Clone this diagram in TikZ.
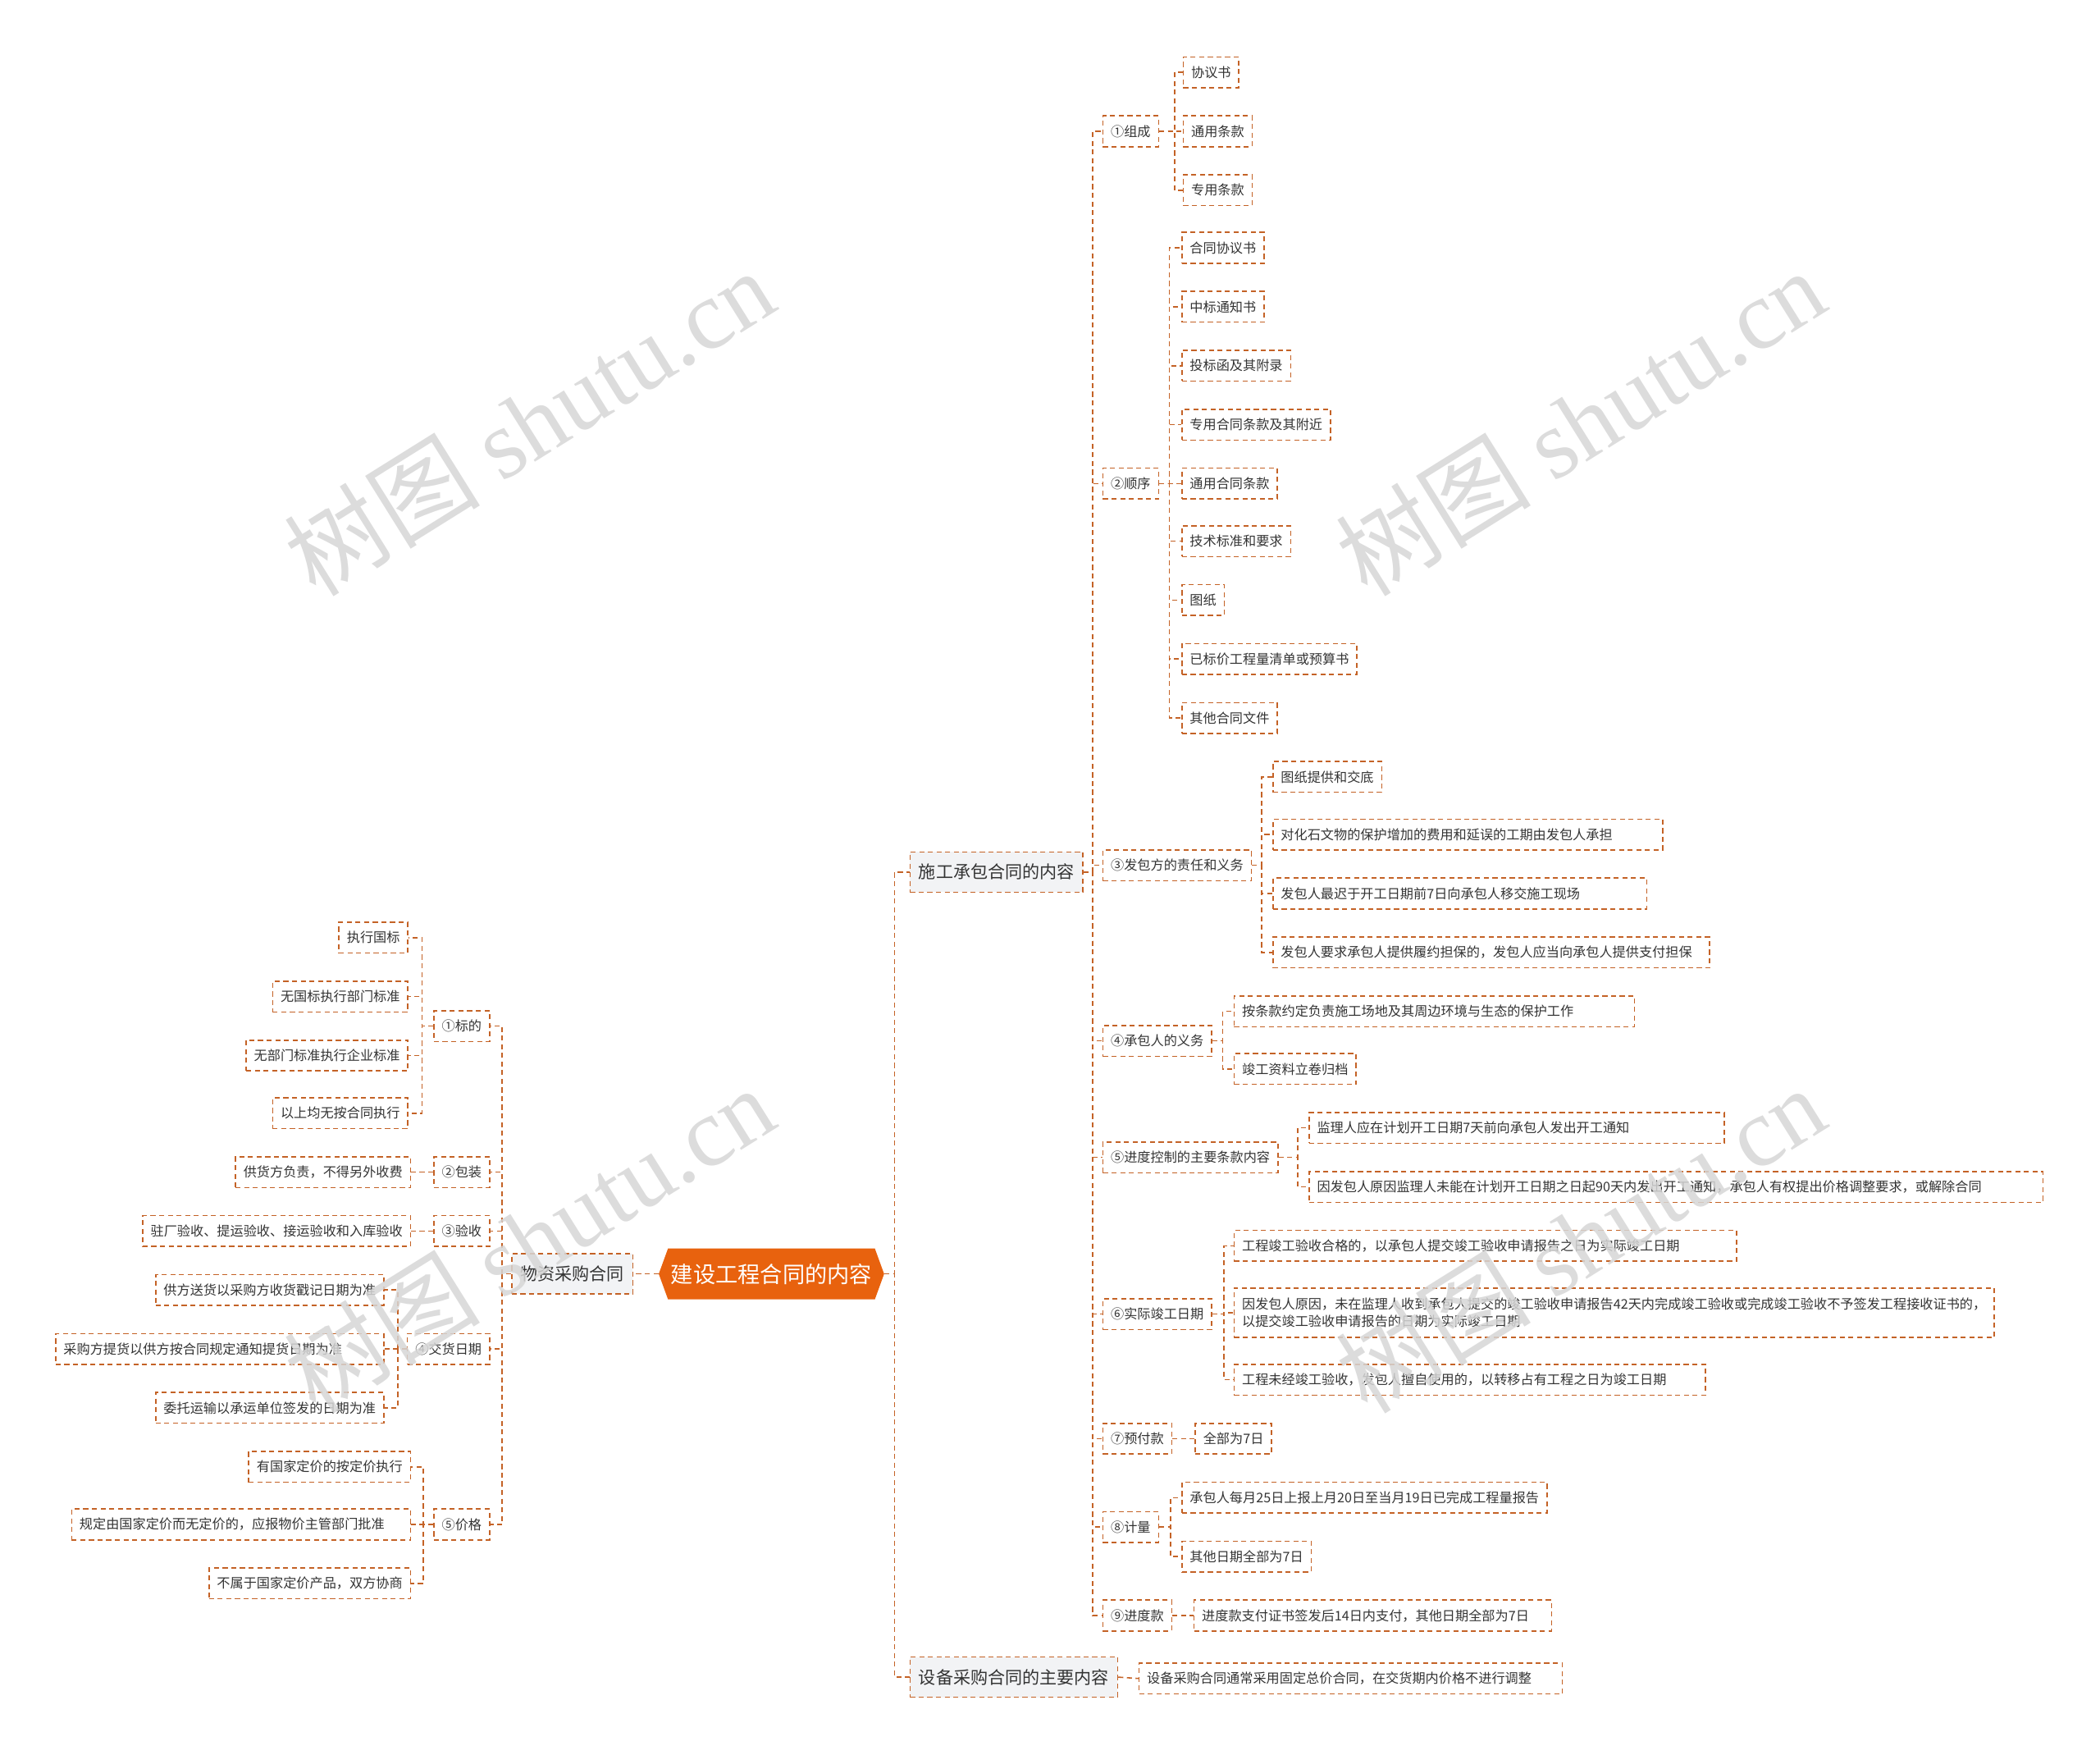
\documentclass[tikz,border=0pt]{standalone}
\usepackage{fontspec}
\setmainfont{Noto Sans CJK SC}
\newfontfamily\wmfont{Liberation Serif}
\usepackage{tikz}
\usetikzlibrary{shapes.symbols,positioning}
\definecolor{ln}{RGB}{196,98,38}
\definecolor{rootc}{RGB}{232,98,14}
\definecolor{lv1}{RGB}{242,243,245}
\definecolor{txt}{RGB}{51,51,51}

\begin{document}
\begin{tikzpicture}[x=0.03265cm,y=-0.03265cm,bw/.style={text width=#1pt,align=left}]
\tikzstyle{L}=[draw=ln,line width=0.9pt,dash pattern=on 3.5pt off 2.5pt]
\tikzstyle{T}=[L,minimum height=0.75cm,inner xsep=5.5pt,inner ysep=2pt,text=txt,font=\fontsize{9.2}{12}\selectfont]
\tikzstyle{B}=[T,fill=lv1,minimum height=0.98cm,inner xsep=6pt,font=\fontsize{12}{14}\selectfont]
\tikzstyle{R}=[signal,signal to=east and west,signal pointer angle=140,fill=rootc,text=white,minimum width=5.49cm,minimum height=1.24cm,inner xsep=2pt,font=\fontsize{15.5}{18}\selectfont]
\tikzstyle{W}=[rotate=32,text=black!16,text opacity=0.85,font=\fontsize{68}{76}\selectfont]
\useasboundingbox (0,0) rectangle (1568,1310);

\node[R] (root) at (576,951) {建设工程合同的内容};

\node[B,anchor=west] (sg) at (679,651) {施工承包合同的内容};
\node[B,anchor=west] (sb) at (679,1252) {设备采购合同的主要内容};
\node[B,anchor=east] (wz) at (473,951) {物资采购合同};

\node[T,anchor=west] (zc) at (823,98) {①组成};
\node[T,anchor=west] (sx) at (823,361) {②顺序};
\node[T,anchor=west] (fb) at (823,646) {③发包方的责任和义务};
\node[T,anchor=west] (cb) at (823,777) {④承包人的义务};
\node[T,anchor=west] (jd) at (823,864) {⑤进度控制的主要条款内容};
\node[T,anchor=west] (sj) at (823,981) {⑥实际竣工日期};
\node[T,anchor=west] (yf) at (823,1074) {⑦预付款};
\node[T,anchor=west] (jl) at (823,1140) {⑧计量};
\node[T,anchor=west] (jk) at (823,1206) {⑨进度款};

\node[T,anchor=west] (zc1) at (883,54) {协议书};
\node[T,anchor=west] (zc2) at (883,98) {通用条款};
\node[T,anchor=west] (zc3) at (883,142) {专用条款};

\node[T,anchor=west] (sx1) at (882,185) {合同协议书};
\node[T,anchor=west] (sx2) at (882,229) {中标通知书};
\node[T,anchor=west] (sx3) at (882,273) {投标函及其附录};
\node[T,anchor=west] (sx4) at (882,317) {专用合同条款及其附近};
\node[T,anchor=west] (sx5) at (882,361) {通用合同条款};
\node[T,anchor=west] (sx6) at (882,404) {技术标准和要求};
\node[T,anchor=west] (sx7) at (882,448) {图纸};
\node[T,anchor=west] (sx8) at (882,492) {已标价工程量清单或预算书};
\node[T,anchor=west] (sx9) at (882,536) {其他合同文件};

\node[T,anchor=west] (fb1) at (950,580) {图纸提供和交底};
\node[T,anchor=west,bw=259.4] (fb2) at (950,623) {对化石文物的保护增加的费用和延误的工期由发包人承担};
\node[T,anchor=west,bw=248.2] (fb3) at (950,667) {发包人最迟于开工日期前7日向承包人移交施工现场};
\node[T,anchor=west,bw=291.9] (fb4) at (950,711) {发包人要求承包人提供履约担保的，发包人应当向承包人提供支付担保};

\node[T,anchor=west,bw=266.8] (cb1) at (921,755) {按条款约定负责施工场地及其周边环境与生态的保护工作};
\node[T,anchor=west] (cb2) at (921,798) {竣工资料立卷归档};

\node[T,anchor=west,bw=277] (jd1) at (977,842) {监理人应在计划开工日期7天前向承包人发出开工通知};
\node[T,anchor=west,bw=498] (jd2) at (977,886) {因发包人原因监理人未能在计划开工日期之日起90天内发出开工通知，承包人有权提出价格调整要求，或解除合同};

\node[T,anchor=west,bw=337.4] (sj1) at (921,930) {工程竣工验收合格的，以承包人提交竣工验收申请报告之日为实际竣工日期};
\node[T,anchor=west,align=left,minimum height=1.21cm] (sj2) at (921,980) {因发包人原因，未在监理人收到承包人提交的竣工验收申请报告42天内完成竣工验收或完成竣工验收不予签发工程接收证书的，\\以提交竣工验收申请报告的日期为实际竣工日期};
\node[T,anchor=west,bw=316] (sj3) at (921,1030) {工程未经竣工验收，发包人擅自使用的，以转移占有工程之日为竣工日期};

\node[T,anchor=west] (yf1) at (892,1074) {全部为7日};
\node[T,anchor=west] (jl1) at (882,1118) {承包人每月25日上报上月20日至当月19日已完成工程量报告};
\node[T,anchor=west] (jl2) at (882,1162) {其他日期全部为7日};
\node[T,anchor=west,bw=237.1] (jk1) at (891,1206) {进度款支付证书签发后14日内支付，其他日期全部为7日};
\node[T,anchor=west,bw=282.6] (sb1) at (850,1253) {设备采购合同通常采用固定总价合同，在交货期内价格不进行调整};

\node[T,anchor=east] (bd) at (366,766) {①标的};
\node[T,anchor=east] (bz) at (366,875) {②包装};
\node[T,anchor=east] (ys) at (366,919) {③验收};
\node[T,anchor=east] (jh) at (366,1007) {④交货日期};
\node[T,anchor=east] (jg) at (366,1138) {⑤价格};

\node[T,anchor=east] (bd1) at (305,700) {执行国标};
\node[T,anchor=east] (bd2) at (305,744) {无国标执行部门标准};
\node[T,anchor=east] (bd3) at (305,788) {无部门标准执行企业标准};
\node[T,anchor=east] (bd4) at (305,831) {以上均无按合同执行};
\node[T,anchor=east] (bz1) at (307,875) {供货方负责，不得另外收费};
\node[T,anchor=east] (ys1) at (307,919) {驻厂验收、提运验收、接运验收和入库验收};
\node[T,anchor=east] (jh1) at (287,963) {供方送货以采购方收货戳记日期为准};
\node[T,anchor=east,bw=216.6] (jh2) at (287,1007) {采购方提货以供方按合同规定通知提货日期为准};
\node[T,anchor=east] (jh3) at (287,1051) {委托运输以承运单位签发的日期为准};
\node[T,anchor=east] (jg1) at (307,1095) {有国家定价的按定价执行};
\node[T,anchor=east,bw=224.1] (jg2) at (307,1138) {规定由国家定价而无定价的，应报物价主管部门批准};
\node[T,anchor=east] (jg3) at (307,1182) {不属于国家定价产品，双方协商};

\coordinate (tR) at (668,951); \coordinate (tL) at (484,951);
\coordinate (tsg) at (816,651); \coordinate (tsb) at (841,1252); \coordinate (twz) at (375,951);
\coordinate (tzc) at (877,98); \coordinate (tsx) at (873,361); \coordinate (tfb) at (942,646);
\coordinate (tcb) at (913,777); \coordinate (tjd) at (969,864); \coordinate (tsj) at (914,981);
\coordinate (tyf) at (882,1074); \coordinate (tjl) at (874,1140); \coordinate (tjk) at (882,1206);
\coordinate (tbd) at (315,766); \coordinate (tbz) at (316,875); \coordinate (tys) at (316,919);
\coordinate (tjh) at (297,1007); \coordinate (tjg) at (316,1138);

\draw[L] (root.east)--(tR)|-(sg.west); \draw[L] (root.east)--(tR)|-(sb.west);
\draw[L] (root.west)--(wz.east);
\draw[L] (sg.east)--(tsg)|-(zc.west); \draw[L] (sg.east)--(tsg)|-(sx.west); \draw[L] (sg.east)--(tsg)|-(fb.west);
\draw[L] (sg.east)--(tsg)|-(cb.west); \draw[L] (sg.east)--(tsg)|-(jd.west); \draw[L] (sg.east)--(tsg)|-(sj.west);
\draw[L] (sg.east)--(tsg)|-(yf.west); \draw[L] (sg.east)--(tsg)|-(jl.west); \draw[L] (sg.east)--(tsg)|-(jk.west);
\draw[L] (zc.east)--(tzc)|-(zc1.west); \draw[L] (zc.east)--(tzc)|-(zc2.west); \draw[L] (zc.east)--(tzc)|-(zc3.west);
\draw[L] (sx.east)--(tsx)|-(sx1.west); \draw[L] (sx.east)--(tsx)|-(sx2.west); \draw[L] (sx.east)--(tsx)|-(sx3.west);
\draw[L] (sx.east)--(tsx)|-(sx4.west); \draw[L] (sx.east)--(tsx)|-(sx5.west); \draw[L] (sx.east)--(tsx)|-(sx6.west);
\draw[L] (sx.east)--(tsx)|-(sx7.west); \draw[L] (sx.east)--(tsx)|-(sx8.west); \draw[L] (sx.east)--(tsx)|-(sx9.west);
\draw[L] (fb.east)--(tfb)|-(fb1.west); \draw[L] (fb.east)--(tfb)|-(fb2.west);
\draw[L] (fb.east)--(tfb)|-(fb3.west); \draw[L] (fb.east)--(tfb)|-(fb4.west);
\draw[L] (cb.east)--(tcb)|-(cb1.west); \draw[L] (cb.east)--(tcb)|-(cb2.west);
\draw[L] (jd.east)--(tjd)|-(jd1.west); \draw[L] (jd.east)--(tjd)|-(jd2.west);
\draw[L] (sj.east)--(tsj)|-(sj1.west); \draw[L] (sj.east)--(tsj)|-(sj2.west); \draw[L] (sj.east)--(tsj)|-(sj3.west);
\draw[L] (yf.east)--(yf1.west);
\draw[L] (jl.east)--(tjl)|-(jl1.west); \draw[L] (jl.east)--(tjl)|-(jl2.west);
\draw[L] (jk.east)--(jk1.west);
\draw[L] (sb.east)--(sb1.west);
\draw[L] (wz.west)--(twz)|-(bd.east); \draw[L] (wz.west)--(twz)|-(bz.east); \draw[L] (wz.west)--(twz)|-(ys.east);
\draw[L] (wz.west)--(twz)|-(jh.east); \draw[L] (wz.west)--(twz)|-(jg.east);
\draw[L] (bd.west)--(tbd)|-(bd1.east); \draw[L] (bd.west)--(tbd)|-(bd2.east);
\draw[L] (bd.west)--(tbd)|-(bd3.east); \draw[L] (bd.west)--(tbd)|-(bd4.east);
\draw[L] (bz.west)--(bz1.east); \draw[L] (ys.west)--(ys1.east);
\draw[L] (jh.west)--(tjh)|-(jh1.east); \draw[L] (jh.west)--(tjh)|-(jh2.east); \draw[L] (jh.west)--(tjh)|-(jh3.east);
\draw[L] (jg.west)--(tjg)|-(jg1.east); \draw[L] (jg.west)--(tjg)|-(jg2.east); \draw[L] (jg.west)--(tjg)|-(jg3.east);

\node[W] (wm1) at (395,315) {树图 {\wmfont shutu.cn}};
\node[W] (wm2) at (1180,315) {树图 {\wmfont shutu.cn}};
\node[W] (wm3) at (395,925) {树图 {\wmfont shutu.cn}};
\node[W] (wm4) at (1180,925) {树图 {\wmfont shutu.cn}};
\end{tikzpicture}
\end{document}
